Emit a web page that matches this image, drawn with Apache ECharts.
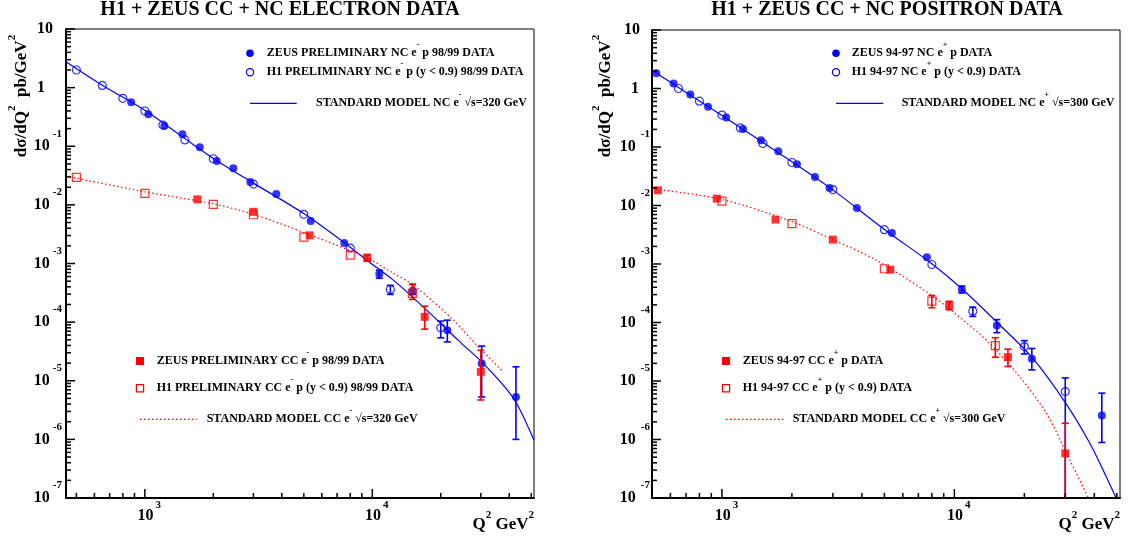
<!DOCTYPE html>
<html>
<head>
<meta charset="utf-8">
<script src="https://cdn.jsdelivr.net/npm/echarts@6/dist/echarts.min.js"></script>
<style>
  html, body { margin: 0; padding: 0; background: #fff; }
  #chart { width: 1128px; height: 545px; }
</style>
</head>
<body>
<div id="chart"></div>
<script>
// ---- electron panel (e- p 98/99), [Q2, dsigma/dQ2] ----
const zeusNcEm = [[870,0.561],[1036,0.350],[1218,0.221],[1462,0.1596],[1743,0.0958],[2070,0.0558],[2449,0.0420],[2909,0.0245],[3784,0.01528],[5360,0.0053],[7534,0.00223],[10735,6.59e-4],[15054,3.42e-4],[21370,7.3e-5],[30260,1.97e-5],[42810,5.3e-6]];
const zeusNcEmErr = [[10735,5.6e-4,7.7e-4],[15054,2.97e-4,4.4e-4],[21370,4.6e-5,1.08e-4],[30260,5.3e-6,3.9e-5],[42810,1.0e-6,1.73e-5]];
const h1NcEm = [[500,2.0],[650,1.09],[800,0.656],[1000,0.399],[1200,0.230],[1500,0.128],[2000,0.0612],[3000,0.0226],[5000,0.00689],[8000,0.00183],[12000,3.61e-4],[20000,8.0e-5]];
const h1NcEmErr = [[12000,2.97e-4,4.23e-4],[20000,5.4e-5,1.04e-4]];
const zeusCcEm = [[1700,0.01242],[3000,0.00762],[5300,0.00302],[9500,0.00125],[17000,1.23e-4],[30000,1.42e-5]];
const zeusCcEmErr = [[9500,1.1e-3,1.42e-3],[17000,7.6e-5,1.87e-4],[30000,4.7e-6,3.3e-5]];
const h1CcEm = [[500,0.0294],[1000,0.0157],[2000,0.0102],[3000,0.00678],[5000,0.00282],[8000,0.00139],[15000,3.09e-4]];
const h1CcEmErr = [[15000,2.44e-4,4.4e-4]];
const smNcEm = [[450,2.77],[650,1.1],[1000,0.41],[1500,0.135],[2000,0.062],[3000,0.0235],[5000,0.0071],[8000,0.0019],[9450,0.00114],[12370,5.2e-4],[17340,1.6e-4],[24290,4.6e-5],[30260,2.1e-5],[37650,8.4e-6],[43130,4.1e-6],[51400,9.7e-7]];
const smCcEm = [[450,0.031],[1000,0.0167],[2000,0.0104],[3000,0.0069],[5300,0.0031],[9500,0.00124],[12370,6.8e-4],[15150,4.3e-4],[22700,1.09e-4],[28770,4.05e-5],[37650,1.42e-5]];

// ---- positron panel (e+ p 94-97) ----
const zeusNcEp = [[522,1.82],[619,1.22],[731,0.79],[871,0.486],[1043,0.320],[1231,0.204],[1471,0.1306],[1747,0.0848],[2102,0.0507],[2512,0.0308],[2902,0.0200],[3807,0.00906],[5385,0.00338],[7617,0.00131],[10772,3.67e-4],[15235,8.9e-5],[21544,2.39e-5],[43090,2.56e-6]];
const zeusNcEpErr = [[10772,3.2e-4,4.2e-4],[15235,6.7e-5,1.12e-4],[21544,1.55e-5,3.6e-5],[43090,8.9e-7,6.2e-6]];
const h1NcEp = [[650,1.0],[800,0.608],[1000,0.351],[1200,0.212],[1500,0.1148],[2000,0.0543],[3000,0.0187],[5000,0.00386],[8000,9.8e-4],[12000,1.56e-4],[20000,3.88e-5],[30000,6.6e-6]];
const h1NcEpErr = [[12000,1.27e-4,1.83e-4],[20000,2.9e-5,4.9e-5],[30000,1e-8,1.13e-5]];
const zeusCcEp = [[530,0.0182],[950,0.0131],[1700,0.00574],[3000,0.00261],[5300,7.98e-4],[9500,1.95e-4],[17000,2.55e-5],[30000,5.8e-7]];
const zeusCcEpErr = [[9500,1.65e-4,2.3e-4],[17000,1.77e-5,3.5e-5],[30000,1e-8,1.9e-6]];
const h1CcEp = [[1000,0.0119],[2000,0.0049],[5000,8.3e-4],[8000,2.32e-4],[15000,4.04e-5]];
const h1CcEpErr = [[8000,1.79e-4,2.9e-4],[15000,2.55e-5,5.5e-5]];
const smNcEp = [[500,2.06],[650,1.04],[1000,0.344],[2000,0.056],[3000,0.0185],[5000,0.0039],[8000,1.01e-3],[10770,3.77e-4],[15240,1.01e-4],[21540,2.55e-5],[29970,4.3e-6],[38410,8.4e-7],[45290,2.2e-7],[49660,1e-7]];
const smCcEp = [[500,0.0194],[1000,0.0127],[2000,0.0053],[3000,0.0026],[4640,1.15e-3],[8000,2.9e-4],[9910,1.5e-4],[13800,4.9e-5],[19190,1.16e-5],[24990,2.74e-6],[30470,5.65e-7],[37750,1e-7]];

// axis tick values
const yMajor = [1e-7,1e-6,1e-5,1e-4,1e-3,1e-2,1e-1,1,10];
const xMajor = [1000, 10000];
const mantissas = [2,3,4,5,6,7,8,9];

const FONT = '"Liberation Serif", "Times New Roman", serif';
const BLUE = '#0000ff';
const RED = '#ff0000';

const panels = [
  {
    grid: { left: 66, top: 29, width: 468, height: 469 },
    xMin: 450, xMax: 51400, pad1: 17, pad10: 9, gap: 3,
    title: 'H1 + ZEUS CC + NC ELECTRON DATA', titleX: 280,
    ytX: 22, xtX: 534,
    ncZ: zeusNcEm, ncZErr: zeusNcEmErr, ncH: h1NcEm, ncHErr: h1NcEmErr,
    ccZ: zeusCcEm, ccZErr: zeusCcEmErr, ccH: h1CcEm, ccHErr: h1CcEmErr,
    smNc: smNcEm, smCc: smCcEm,
    sign: '-',
    leg1: { x: 250, tx: 266.7, lx2: 296.7, ltx: 316 },
    leg1Text: ['ZEUS PRELIMINARY NC e', ' p 98/99 DATA', 'H1 PRELIMINARY NC e', ' p (y < 0.9) 98/99 DATA', 'STANDARD MODEL NC e', ' \u221As=320 GeV'],
    leg2: { x: 140, tx: 156.7, lx2: 196.7, ltx: 206.7 },
    leg2Text: ['ZEUS PRELIMINARY CC e', ' p 98/99 DATA', 'H1 PRELIMINARY CC e', ' p (y < 0.9) 98/99 DATA', 'STANDARD MODEL CC e', ' \u221As=320 GeV']
  },
  {
    grid: { left: 652, top: 30, width: 468, height: 468 },
    xMin: 500, xMax: 51600, pad1: 11, pad10: 10, gap: 5,
    title: 'H1 + ZEUS CC + NC POSITRON DATA', titleX: 887,
    ytX: 606, xtX: 1120,
    ncZ: zeusNcEp, ncZErr: zeusNcEpErr, ncH: h1NcEp, ncHErr: h1NcEpErr,
    ccZ: zeusCcEp, ccZErr: zeusCcEpErr, ccH: h1CcEp, ccHErr: h1CcEpErr,
    smNc: smNcEp, smCc: smCcEp,
    sign: '+',
    leg1: { x: 836, tx: 851.7, lx2: 883.3, ltx: 901.7 },
    leg1Text: ['ZEUS 94-97 NC e', ' p DATA', 'H1 94-97 NC e', ' p (y < 0.9) DATA', 'STANDARD MODEL NC e', ' \u221As=300 GeV'],
    leg2: { x: 726, tx: 742.7, lx2: 783.3, ltx: 792.7 },
    leg2Text: ['ZEUS 94-97 CC e', ' p DATA', 'H1 94-97 CC e', ' p (y < 0.9) DATA', 'STANDARD MODEL CC e', ' \u221As=300 GeV']
  }
];

function isPow10(v) {
  const l = Math.log10(v);
  return Math.abs(l - Math.round(l)) < 1e-6;
}

function errItem(color) {
  return function (params, api) {
    const lo = api.coord([api.value(0), api.value(1)]);
    const hi = api.coord([api.value(0), api.value(2)]);
    const c = 3.5;
    const st = { stroke: color, lineWidth: 1.6 };
    return {
      type: 'group',
      children: [
        { type: 'line', shape: { x1: lo[0], y1: lo[1], x2: hi[0], y2: hi[1] }, style: st },
        { type: 'line', shape: { x1: lo[0] - c, y1: lo[1], x2: lo[0] + c, y2: lo[1] }, style: st },
        { type: 'line', shape: { x1: hi[0] - c, y1: hi[1], x2: hi[0] + c, y2: hi[1] }, style: st }
      ]
    };
  };
}

const grids = [], xAxes = [], yAxes = [], series = [], graphics = [];

const legRich = {
  n: { fontFamily: FONT, fontWeight: 'bold', fontSize: 12, lineHeight: 24, fill: '#000' },
  u: { fontFamily: FONT, fontWeight: 'bold', fontSize: 8, lineHeight: 8, verticalAlign: 'top', fill: '#000' }
};

function legText(x, y, a, sign, b) {
  return {
    type: 'text', x: x, y: y,
    style: { text: '{n|' + a + '}{u|' + sign + '}{n|' + b + '}', rich: legRich, verticalAlign: 'middle', align: 'left' }
  };
}

panels.forEach(function (pn, i) {
  grids.push(Object.assign({ show: true, borderColor: '#000', borderWidth: 1, backgroundColor: 'transparent' }, pn.grid));

  xAxes.push({
    type: 'log', logBase: 10, gridIndex: i, min: pn.xMin, max: pn.xMax,
    axisLine: { onZero: false, lineStyle: { color: '#000', width: 2 } },
    axisTick: { show: false },
    splitLine: { show: false },
    axisLabel: {
      margin: 2,
      formatter: function (v) {
        if (!isPow10(v)) return '';
        return '{p| }{b|10}{s|' + Math.round(Math.log10(v)) + '}';
      },
      rich: {
        p: { width: 9 },
        b: { fontFamily: FONT, fontWeight: 'bold', fontSize: 16, lineHeight: 31, color: '#000' },
        s: { fontFamily: FONT, fontWeight: 'bold', fontSize: 11, lineHeight: 12, verticalAlign: 'top', padding: [0, 0, 0, 2], color: '#000' }
      }
    }
  });

  yAxes.push({
    type: 'log', logBase: 10, gridIndex: i, min: 1e-7, max: 10,
    axisLine: { onZero: false, lineStyle: { color: '#000', width: 2 } },
    axisTick: { show: false },
    splitLine: { show: false },
    axisLabel: {
      margin: i === 0 ? 4 : 2,
      formatter: function (v) {
        if (!isPow10(v)) return '';
        const e = Math.round(Math.log10(v));
        if (e === 0) return '{b|1}{p1| }';
        if (e === 1) return '{b|10}{p10| }';
        return '{b|10}{s|' + e + '}';
      },
      rich: {
        p1: { width: pn.pad1 },
        p10: { width: pn.pad10 },
        b: { fontFamily: FONT, fontWeight: 'bold', fontSize: 16, lineHeight: 36, color: '#000' },
        s: { fontFamily: FONT, fontWeight: 'bold', fontSize: 11, lineHeight: 12, verticalAlign: 'top', padding: [0, 0, 0, pn.gap], color: '#000' }
      }
    }
  });

  const ax = { xAxisIndex: i, yAxisIndex: i };
  series.push(Object.assign({
    type: 'line', data: pn.smNc, smooth: 0.3, showSymbol: false, symbol: 'none',
    lineStyle: { color: BLUE, width: 1.2 }, z: 2
  }, ax));
  series.push(Object.assign({
    type: 'line', data: pn.smCc, smooth: 0.3, showSymbol: false, symbol: 'none',
    lineStyle: { color: RED, width: 1.2, type: [1.5, 2.5] }, z: 2
  }, ax));
  series.push(Object.assign({
    type: 'custom', data: pn.ncZErr.concat(pn.ncHErr), renderItem: errItem(BLUE), clip: true, z: 3
  }, ax));
  series.push(Object.assign({
    type: 'scatter', data: pn.ncZ, symbol: 'circle', symbolSize: 8,
    itemStyle: { color: BLUE }, z: 4
  }, ax));
  series.push(Object.assign({
    type: 'scatter', data: pn.ncH, symbol: 'circle', symbolSize: 8,
    itemStyle: { color: 'rgba(0,0,0,0)', borderColor: BLUE, borderWidth: 1.2 }, z: 4
  }, ax));
  series.push(Object.assign({
    type: 'custom', data: pn.ccZErr.concat(pn.ccHErr), renderItem: errItem(RED), clip: true, z: 5
  }, ax));
  series.push(Object.assign({
    type: 'scatter', data: pn.ccZ, symbol: 'rect', symbolSize: 8,
    itemStyle: { color: RED }, z: 6
  }, ax));
  series.push(Object.assign({
    type: 'scatter', data: pn.ccH, symbol: 'rect', symbolSize: 8,
    itemStyle: { color: 'rgba(0,0,0,0)', borderColor: RED, borderWidth: 1.2 }, z: 6
  }, ax));

  // titles
  graphics.push({
    type: 'text', x: pn.titleX, y: 10,
    style: { text: pn.title, font: 'bold 20px ' + FONT, fill: '#000', align: 'center', verticalAlign: 'middle' }
  });
  graphics.push({
    type: 'text', x: pn.ytX, y: 96, rotation: Math.PI / 2,
    style: {
      text: '{b|d\u03C3/dQ}{s|2}{b|  pb/GeV}{s|2}', align: 'center', verticalAlign: 'middle',
      rich: {
        b: { fontFamily: FONT, fontWeight: 'bold', fontSize: 17, lineHeight: 30, fill: '#000' },
        s: { fontFamily: FONT, fontWeight: 'bold', fontSize: 11, lineHeight: 12, verticalAlign: 'top', fill: '#000' }
      }
    }
  });
  graphics.push({
    type: 'text', x: pn.xtX, y: 525,
    style: {
      text: '{b|Q}{s|2}{b| GeV}{s|2}', align: 'right', verticalAlign: 'middle',
      rich: {
        b: { fontFamily: FONT, fontWeight: 'bold', fontSize: 17, lineHeight: 30, fill: '#000' },
        s: { fontFamily: FONT, fontWeight: 'bold', fontSize: 11, lineHeight: 12, verticalAlign: 'top', fill: '#000' }
      }
    }
  });

  // NC legend
  const l1 = pn.leg1, t1 = pn.leg1Text;
  graphics.push({ type: 'circle', shape: { cx: l1.x, cy: 53.3, r: 3.8 }, style: { fill: BLUE } });
  graphics.push(legText(l1.tx, 53.3, t1[0], pn.sign, t1[1]));
  graphics.push({ type: 'circle', shape: { cx: l1.x, cy: 72.3, r: 3.6 }, style: { fill: 'none', stroke: BLUE, lineWidth: 1.2 } });
  graphics.push(legText(l1.tx, 72.3, t1[2], pn.sign, t1[3]));
  graphics.push({ type: 'line', shape: { x1: l1.x, y1: 103.3, x2: l1.lx2, y2: 103.3 }, style: { stroke: BLUE, lineWidth: 1.2 } });
  graphics.push(legText(l1.ltx, 103.3, t1[4], pn.sign, t1[5]));

  // CC legend
  const l2 = pn.leg2, t2 = pn.leg2Text;
  graphics.push({ type: 'rect', shape: { x: l2.x - 4, y: 361 - 4, width: 8, height: 8 }, style: { fill: RED } });
  graphics.push(legText(l2.tx, 361, t2[0], pn.sign, t2[1]));
  graphics.push({ type: 'rect', shape: { x: l2.x - 3.6, y: 388.3 - 3.6, width: 7.2, height: 7.2 }, style: { fill: 'none', stroke: RED, lineWidth: 1.2 } });
  graphics.push(legText(l2.tx, 388.3, t2[2], pn.sign, t2[3]));
  graphics.push({ type: 'line', shape: { x1: l2.x, y1: 419.3, x2: l2.lx2, y2: 419.3 }, style: { stroke: RED, lineWidth: 1.2, lineDash: [1.5, 2.5] } });
  graphics.push(legText(l2.ltx, 419.3, t2[4], pn.sign, t2[5]));
});

const chart = echarts.init(document.getElementById('chart'));
chart.setOption({
  backgroundColor: '#fff',
  animation: false,
  grid: grids,
  xAxis: xAxes,
  yAxis: yAxes,
  series: series,
  graphic: graphics
});

// inward ROOT-style ticks as short two-point line series; the far end is found
// through the axes' own log scales (pixel offset -> data value)
const tickSeries = [];
panels.forEach(function (pn, i) {
  const finder = { gridIndex: i };
  function addTick(x, y, dx, dy) {
    const p = chart.convertToPixel(finder, [x, y]);
    if (!p) return;
    const e = chart.convertFromPixel(finder, [p[0] + dx, p[1] - dy]);
    if (!e) return;
    tickSeries.push({
      type: 'line', xAxisIndex: i, yAxisIndex: i, silent: true, clip: false, z: 20,
      symbol: 'none', showSymbol: false, animation: false,
      lineStyle: { color: '#000', width: 1.5 },
      data: dx ? [[x, y], [e[0], y]] : [[x, y], [x, e[1]]]
    });
  }
  yMajor.forEach(function (v) { addTick(pn.xMin, v, 9, 0); });
  yMajor.slice(0, -1).forEach(function (v) {
    mantissas.forEach(function (m) { addTick(pn.xMin, m * v, 5, 0); });
  });
  xMajor.forEach(function (q) { addTick(q, 1e-7, 0, 9); });
  [100, 1000, 10000].forEach(function (d) {
    mantissas.forEach(function (m) {
      const q = m * d;
      if (q > pn.xMin && q < pn.xMax) addTick(q, 1e-7, 0, 5);
    });
  });
});
chart.setOption({ series: series.concat(tickSeries) });
</script>
</body>
</html>
